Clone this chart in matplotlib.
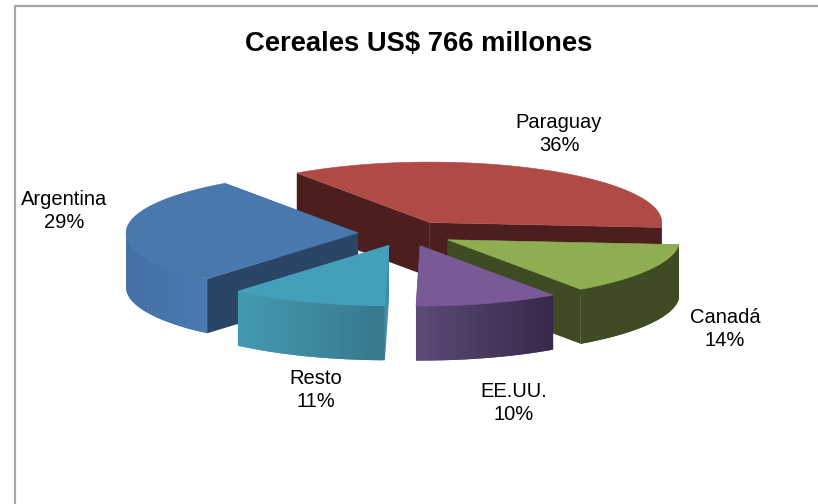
import numpy as np
import matplotlib
matplotlib.use('Agg')
import matplotlib.pyplot as plt
from matplotlib.patches import Polygon
from matplotlib.colors import to_rgb

plt.rcParams['font.family'] = ['Liberation Sans', 'DejaVu Sans']

# chart data, clockwise from the first slice
labels = ['Paraguay', 'Canadá', 'EE.UU.', 'Resto', 'Argentina']
shares = [36, 14, 10, 11, 29]
top_colors = ['#B04A46', '#8FAE52', '#775A96', '#44A0B8', '#4878AE']
inner_colors = ['#4C1F1E', '#3F4B23', '#3F2F52', '#3B90A6', '#2B4566']
side_left = ['#4C1F1E', '#3F4B23', '#5D4A78', '#439AB0', '#4570A4']
side_right = ['#4C1F1E', '#3F4B23', '#37294A', '#37788E', '#4A7CB4']
label_pos = [(559, 134), (725, 329), (514, 403), (316, 390), (64, 211)]

# pie geometry in pixels
cx, cy = 406, 233.5
rx, ry = 232, 60.5
depth = 54.5
explode_x, explode_y = 48, 12.6
start_angle = 125

fig = plt.figure(figsize=(8.18, 5.04), dpi=100)
ax = fig.add_axes([0, 0, 1, 1])
ax.set_xlim(0, 818)
ax.set_ylim(504, 0)
ax.axis('off')

# chart frame runs off the bottom and right of the picture
ax.plot([14.5, 14.5, 820], [510, 5.5, 5.5], color='#a6a6a6', lw=1.6, solid_capstyle='butt')

ax.text(419, 43.5, 'Cereales US$ 766 millones', ha='center', va='center',
        fontsize=19.7, fontweight='bold', color='black')


def mix(c1, c2, f):
    a, b = np.array(to_rgb(c1)), np.array(to_rgb(c2))
    return tuple(a + (b - a) * f)


edges = start_angle - np.cumsum([0] + shares) * 3.6
slices = []
for i in range(len(shares)):
    a1, a2 = edges[i], edges[i + 1]
    mid = np.radians((a1 + a2) / 2)
    ax0 = cx + explode_x * np.cos(mid)
    ay0 = cy - explode_y * np.sin(mid)
    slices.append((i, np.radians(a1), np.radians(a2), ax0, ay0))

# painter's order, back to front
z = 2.0
for i, a1, a2, x0, y0 in [slices[k] for k in (0, 4, 1, 2, 3)]:
    t = np.linspace(a1, a2, 60)
    xs = x0 + rx * np.cos(t)
    ys = y0 - ry * np.sin(t)

    # flat cut faces
    for a in (a1, a2):
        ex, ey = x0 + rx * np.cos(a), y0 - ry * np.sin(a)
        ax.add_patch(Polygon([(x0, y0), (ex, ey), (ex, ey + depth), (x0, y0 + depth)],
                             fc=inner_colors[i], ec='none', zorder=z))

    # rim, only the part facing the viewer; each strip overlaps the next one
    for k in range(len(t) - 1):
        if np.sin(t[k]) > 0 and np.sin(t[k + 1]) > 0:
            continue
        f = (xs[k] - xs.min()) / max(xs.max() - xs.min(), 1)
        col = mix(side_left[i], side_right[i], f)
        j = min(k + 2, len(t) - 1)
        ax.add_patch(Polygon([(xs[k], ys[k]), (xs[j], ys[j]),
                              (xs[j], ys[j] + depth), (xs[k], ys[k] + depth)],
                             fc=col, ec='none', zorder=z + 0.1))

    ax.add_patch(Polygon(np.vstack([[x0, y0], np.column_stack([xs, ys])]),
                         fc=top_colors[i], ec=top_colors[i], lw=0.4, zorder=z + 0.2))
    z += 1

for name, share, (lx, ly) in zip(labels, shares, label_pos):
    ax.text(lx, ly, f'{name}\n{share}%', ha='center', va='center', fontsize=14.5,
            linespacing=1.3, color='black', zorder=20)

fig.savefig('out.png', dpi=100)
